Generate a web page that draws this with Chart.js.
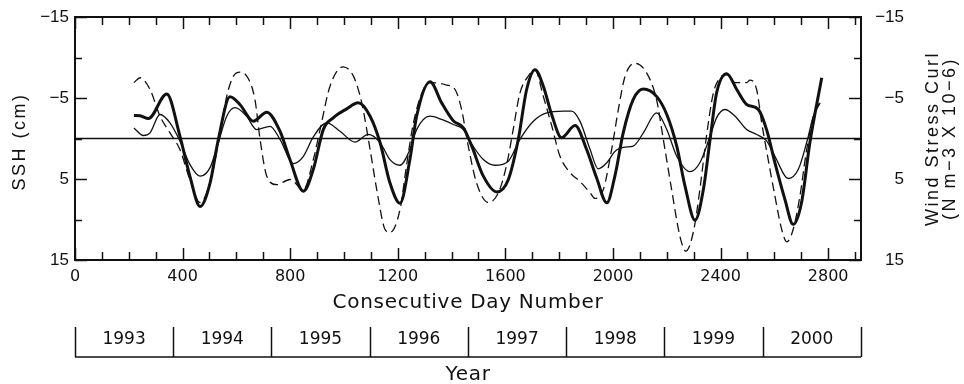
<!DOCTYPE html>
<html>
<head>
<meta charset="utf-8">
<script src="https://cdn.jsdelivr.net/npm/chart.js@4.4.1/dist/chart.umd.min.js"></script>
<style>
  html, body { margin: 0; padding: 0; background: #fff; }
</style>
</head>
<body>
<canvas id="sshChart" width="964" height="384"></canvas>
<script>
// day axis: Jan 1 1993 = day 0, runs to end of 2000
const dayMax = 2922;
const dayTicks = [0, 400, 800, 1200, 1600, 2000, 2400, 2800];
const valueTicks = [-15, -5, 5, 15];
const years = ['1993', '1994', '1995', '1996', '1997', '1998', '1999', '2000'];
const yearStartDays = [0, 365, 730, 1095, 1461, 1826, 2191, 2556, 2922];

// SSH, thick line
const sshDays = [219, 242, 273, 341, 390, 427, 465, 502, 533, 576, 613, 663, 713, 762, 799, 849, 886, 923, 960,
  1010, 1053, 1097, 1134, 1171, 1208, 1245, 1270, 1320, 1363, 1406, 1444, 1475, 1518, 1568, 1611, 1648, 1679,
  1710, 1741, 1772, 1809, 1859, 1902, 1939, 1977, 2007, 2038, 2075, 2113, 2162, 2200, 2237, 2268, 2305, 2336,
  2361, 2385, 2423, 2460, 2497, 2540, 2571, 2602, 2639, 2670, 2701, 2732, 2776];
const sshValues = [-2.84, -2.8, -2.47, -5.5, -0.3, 4.65, 8.4, 5.5, 0.1, -5.14, -4.2, -2.14, -3.25, -0.9, 2.6, 6.5, 3.8, -1.1, -2.55,
  -3.66, -4.4, -2.75, 0.5, 5.5, 8.0, 2.6, -2.75, -7.0, -4.4, -2.2, -1.3, 0.95, 4.65, 6.6, 5.06, 0.1, -6.05,
  -8.5, -6.46, -2.96, -0.1, -1.6, 1.36, 4.85, 7.94, 4.65, -0.7, -4.8, -6.1, -5.2, -2.96, 0.95, 5.9, 10.1, 6.3,
  0.1, -5.6, -8.0, -6.05, -4.2, -3.6, -1.1, 3.0, 7.5, 10.6, 7.9, 0.5, -7.5];

// second SSH series, thin line
const thinDays = [219, 254, 279, 316, 353, 390, 427, 465, 502, 533, 564, 595, 638, 675, 725, 762, 812, 849, 886, 936,
  985, 1041, 1090, 1134, 1171, 1208, 1245, 1270, 1320, 1363, 1406, 1444, 1475, 1518, 1561, 1611, 1654, 1704,
  1754, 1815, 1846, 1877, 1915, 1945, 1977, 2007, 2045, 2075, 2113, 2162, 2200, 2237, 2286, 2323, 2361, 2385,
  2416, 2454, 2497, 2534, 2571, 2602, 2652, 2689, 2720, 2745, 2770];
const thinValues = [-1.3, -0.37, -0.7, -2.96, -1.93, 0.3, 3.2, 4.65, 3.6, 0.5, -2.75, -3.8, -2.75, -1.1, -1.5, 0.1, 3.1, 2.2, -0.2, -1.93,
  -0.9, 0.45, -0.5, 0.5, 2.6, 3.3, 1.36, -1.1, -2.75, -2.35, -1.73, -1.1, 0.7, 2.6, 3.3, 2.8, 0.1, -2.14,
  -3.17, -3.37, -3.37, -2.14, 1.36, 3.74, 3.0, 1.6, 1.07, 0.95, -0.7, -3.17, -1.1, 2.2, 4.1, 3.0, -0.3, -2.55,
  -3.58, -2.75, -1.1, -0.5, 0.3, 2.2, 4.94, 3.8, 0.5, -2.75, -4.4];

// wind stress curl, dashed line
const curlDays = [219, 242, 279, 316, 353, 390, 427, 465, 502, 533, 564, 589, 613, 644, 669, 688, 713, 750, 799, 849,
  886, 911, 948, 997, 1035, 1066, 1097, 1128, 1152, 1171, 1208, 1233, 1258, 1295, 1320, 1382, 1413, 1437, 1462,
  1493, 1536, 1574, 1605, 1629, 1654, 1685, 1710, 1741, 1772, 1803, 1840, 1877, 1915, 1933, 1964, 1995, 2020,
  2045, 2082, 2125, 2162, 2187, 2218, 2249, 2271, 2299, 2323, 2348, 2373, 2398, 2423, 2454, 2497, 2509, 2534,
  2553, 2577, 2602, 2627, 2646, 2670, 2695, 2720, 2745, 2770];
const curlValues = [-6.9, -7.5, -6.05, -2.75, -0.7, 1.36, 5.06, 7.9, 5.5, 0.5, -5.2, -7.7, -8.2, -7.4, -4.8, 0.1, 4.65, 5.7, 5.06, 6.3,
  2.6, -1.1, -6.46, -8.85, -7.7, -4.4, 1.36, 7.5, 11.2, 11.6, 8.8, 3.2, -1.9, -6.05, -6.9, -6.6, -6.05, -3.6, 0.95,
  5.5, 7.9, 6.7, 3.2, -1.1, -5.6, -7.7, -8.5, -5.2, -1.6, 2.2, 4.2, 5.3, 6.7, 7.4, 6.3, 1.36, -3.6,
  -7.7, -9.3, -8.1, -4.8, 0.1, 6.3, 12.1, 13.9, 11.5, 6.3, -0.4, -5.6, -7.5, -7.9, -6.9, -6.9, -7.2, -6.05,
  -1.9, 2.6, 7.1, 11.2, 12.75, 11.2, 7.1, 1.36, -2.75, -4.6];

const toPoints = (xs, ys) => xs.map((d, i) => ({ x: d, y: ys[i] }));
const minus = v => String(v).replace('-', '\u2212');

const HELV = '"Liberation Sans", Arial, sans-serif';
const HERSHEY = '"DejaVu Sans", sans-serif';
const INK = '#111';

// frame, inward ticks, zero line, titles and the year strip
const framePlugin = {
  id: 'frame',
  afterDraw(chart) {
    const { ctx, chartArea: a, scales: { x, y, y2 } } = chart;
    const midX = (a.left + a.right) / 2;
    const midY = (a.top + a.bottom) / 2;
    ctx.save();
    ctx.strokeStyle = INK;
    ctx.fillStyle = INK;

    const seg = (x1, y1, x2, y2) => { ctx.beginPath(); ctx.moveTo(x1, y1); ctx.lineTo(x2, y2); ctx.stroke(); };

    ctx.lineWidth = 1.5;
    const y0 = y.getPixelForValue(0);
    seg(a.left, y0, a.right, y0);

    ctx.lineWidth = 1.5;
    for (let d = 0; d <= dayMax; d += 100) {
      const px = Math.round(x.getPixelForValue(d)) + 0.5;
      const len = d % 400 === 0 ? 12 : 8;
      seg(px, a.bottom, px, a.bottom - len);
      seg(px, a.top, px, a.top + len);
    }
    for (let v = -15; v <= 15; v += 5) {
      const py = Math.round(y.getPixelForValue(v)) + 0.5;
      const len = valueTicks.includes(v) ? 12 : 7;
      seg(a.left, py, a.left + len, py);
      seg(a.right, py, a.right - len, py);
    }

    ctx.lineWidth = 2;
    ctx.strokeRect(a.left, a.top, a.right - a.left, a.bottom - a.top);

    // right-hand tick labels, right aligned
    ctx.font = '17px ' + HELV;
    ctx.textAlign = 'right';
    ctx.textBaseline = 'middle';
    valueTicks.forEach(v => ctx.fillText(minus(v), a.right + 43, y2.getPixelForValue(v)));

    // axis titles
    ctx.textAlign = 'center';
    ctx.font = '18px ' + HELV;
    ctx.letterSpacing = '2.5px';
    ctx.save();
    ctx.translate(20, midY + 3);
    ctx.rotate(-Math.PI / 2);
    ctx.fillText('SSH (cm)', 0, 0);
    ctx.restore();

    ctx.save();
    ctx.translate(933, midY);
    ctx.rotate(-Math.PI / 2);
    ctx.fillText('Wind Stress Curl', 0, 0);
    ctx.fillText('(N m\u22123 X 10\u22126)', 0, 17);
    ctx.restore();

    ctx.font = '20px ' + HERSHEY;
    ctx.letterSpacing = '0.7px';
    ctx.fillText('Consecutive Day Number', midX, a.bottom + 43);
    ctx.fillText('Year', midX, a.bottom + 115);

    // year strip
    const top = a.bottom + 67;
    const bot = a.bottom + 97;
    ctx.lineWidth = 1.5;
    seg(x.getPixelForValue(0), bot, x.getPixelForValue(dayMax), bot);
    yearStartDays.forEach(d => {
      const px = Math.round(x.getPixelForValue(d)) + 0.5;
      seg(px, top, px, bot);
    });
    ctx.font = '17px ' + HERSHEY;
    ctx.letterSpacing = '0px';
    years.forEach((yr, i) => {
      const cx = (x.getPixelForValue(yearStartDays[i]) + x.getPixelForValue(yearStartDays[i + 1])) / 2;
      ctx.fillText(yr, cx, a.bottom + 80);
    });
    ctx.restore();
  }
};

const lineStyle = { pointRadius: 0, borderColor: INK, fill: false, cubicInterpolationMode: 'monotone' };

new Chart(document.getElementById('sshChart'), {
  type: 'line',
  data: {
    datasets: [
      { ...lineStyle, label: 'SSH', data: toPoints(sshDays, sshValues), borderWidth: 3 },
      { ...lineStyle, label: 'SSH (thin)', data: toPoints(thinDays, thinValues), borderWidth: 1.3 },
      { ...lineStyle, label: 'Wind stress curl', data: toPoints(curlDays, curlValues), borderWidth: 1.3,
        borderDash: [9, 5], yAxisID: 'y2' }
    ]
  },
  options: {
    responsive: false,
    animation: false,
    layout: { padding: { top: 17, left: 0, right: 0, bottom: 0 } },
    plugins: { legend: { display: false }, tooltip: { enabled: false } },
    scales: {
      x: {
        type: 'linear',
        min: 0,
        max: dayMax,
        grid: { display: false, drawTicks: false },
        border: { display: false },
        afterBuildTicks: s => { s.ticks = dayTicks.map(v => ({ value: v })); },
        afterFit: s => { s.height = 124; },
        ticks: { color: INK, padding: 7, maxRotation: 0, autoSkip: false, callback: v => String(v),
          font: { family: HERSHEY, size: 16 } }
      },
      y: {
        position: 'left',
        reverse: true,
        min: -15,
        max: 15,
        grid: { display: false, drawTicks: false },
        border: { display: false },
        afterBuildTicks: s => { s.ticks = valueTicks.map(v => ({ value: v })); },
        afterFit: s => { s.width = 75; },
        ticks: { color: INK, padding: 6, callback: minus, font: { family: HELV, size: 17 } }
      },
      y2: {
        position: 'right',
        reverse: true,
        min: -15,
        max: 15,
        grid: { display: false, drawTicks: false },
        border: { display: false },
        afterBuildTicks: s => { s.ticks = valueTicks.map(v => ({ value: v })); },
        afterFit: s => { s.width = 103; },
        ticks: { display: false }
      }
    }
  },
  plugins: [framePlugin]
});
</script>
</body>
</html>
